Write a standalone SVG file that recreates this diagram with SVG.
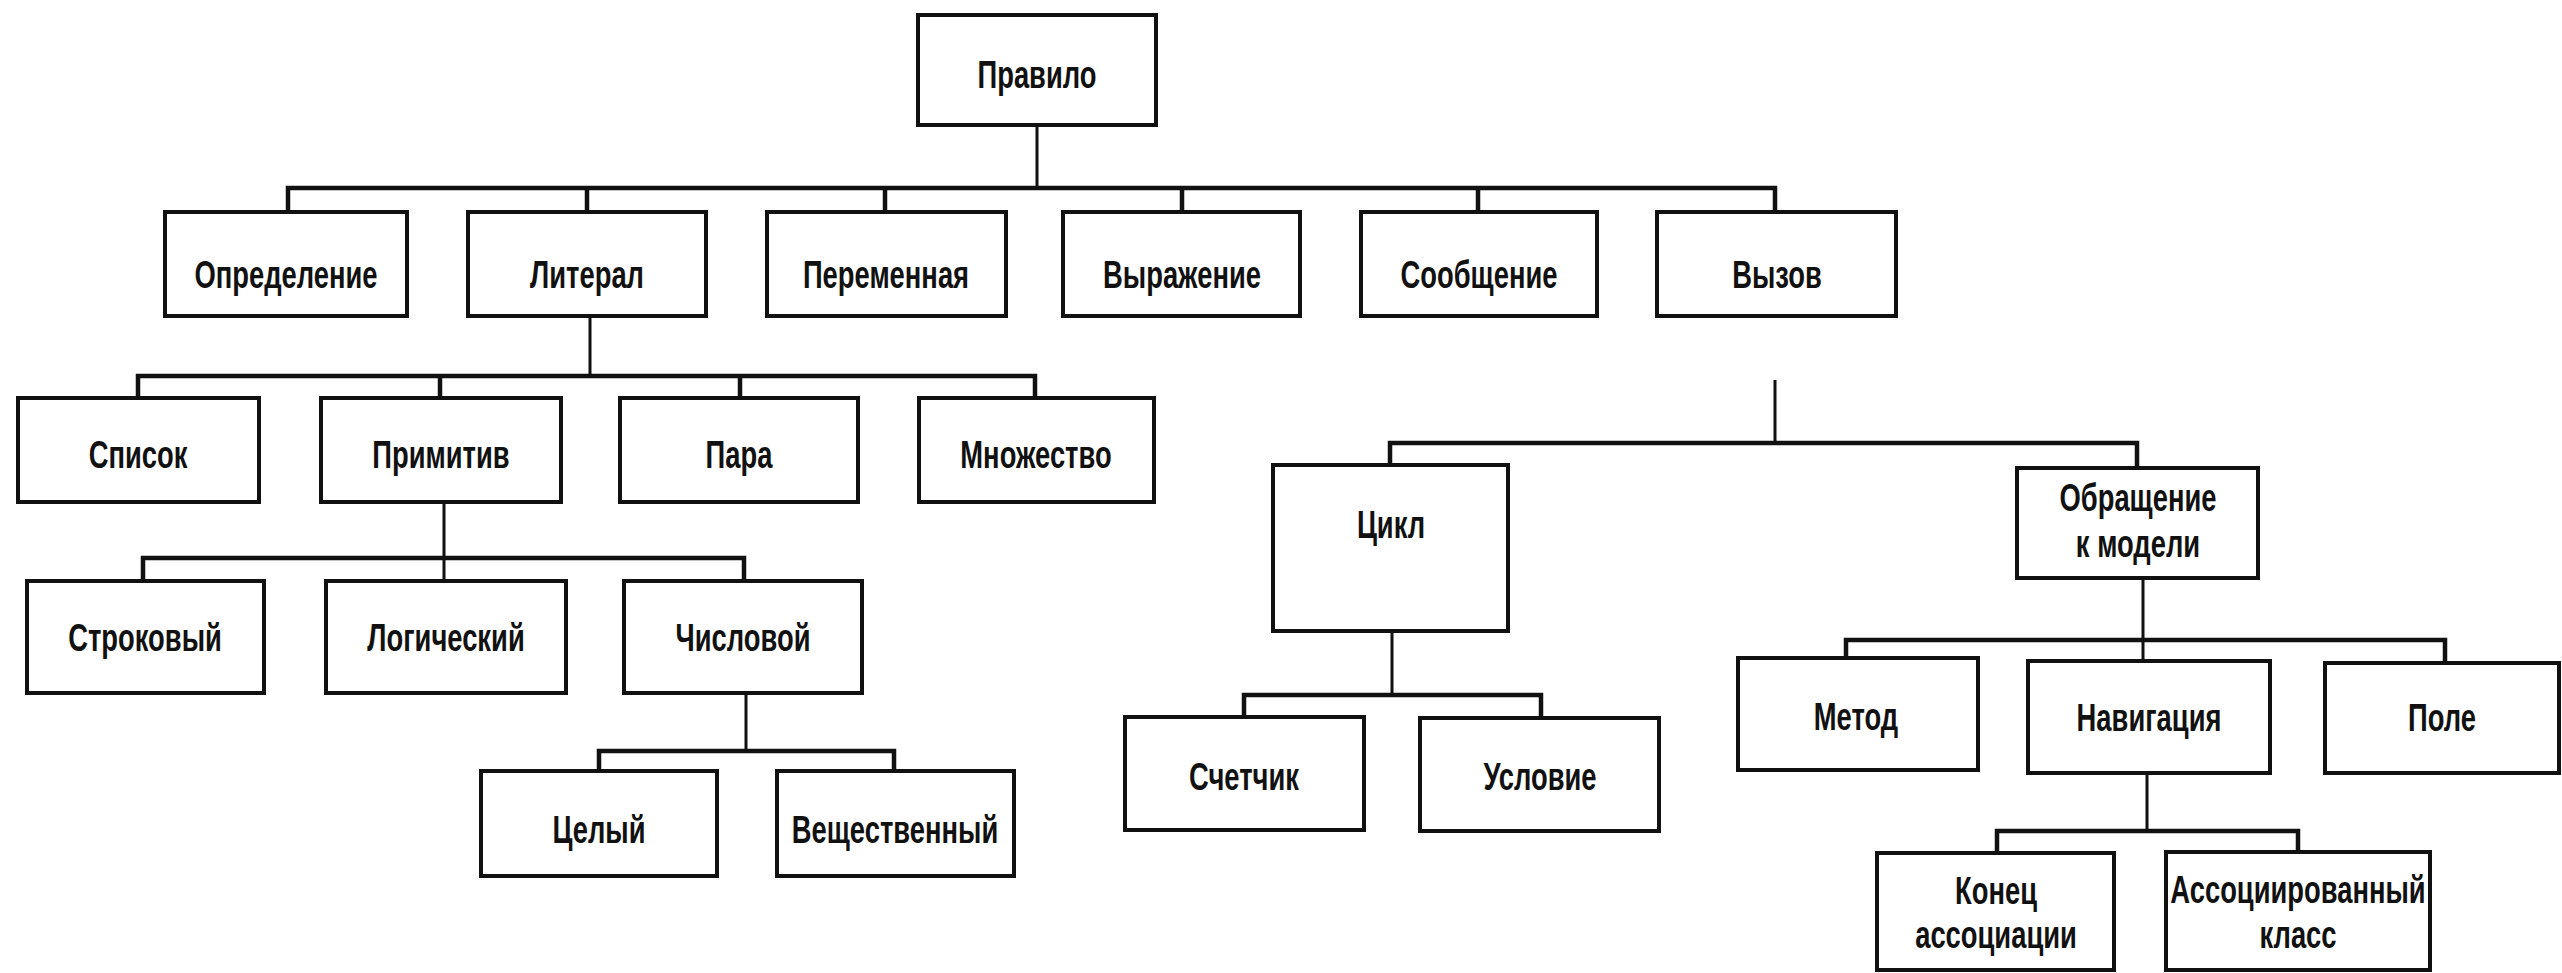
<svg xmlns="http://www.w3.org/2000/svg" width="2562" height="973" viewBox="0 0 2562 973">
<style>
  .box { fill: #fff; stroke: #111; stroke-width: 4; }
  .t { font-family: "Liberation Sans", Arial, sans-serif; font-weight: bold; font-size: 38px; fill: #111; text-anchor: middle; }
  .bus { fill: none; stroke: #111; stroke-width: 4.5; stroke-linejoin: miter; }
  .drop { fill: none; stroke: #111; stroke-width: 3; }
</style>
<rect x="0" y="0" width="2562" height="973" fill="#fff"/>
<g id="connectors">
  <path class="drop" d="M1037 125 V188 M590 316 V376 M444 502 V581 M746 693 V751 M1775 380 V443 M1392 631 V695 M2143 578 V661 M2147 773 V831"/>
  <path class="bus" d="M288 212 V188 H1775 V212 M587 188 V212 M885 188 V212 M1182 188 V212 M1478 188 V212"/>
  <path class="bus" d="M138 398 V376 H1035 V398 M440 376 V398 M740 376 V398"/>
  <path class="bus" d="M143 581 V558 H744 V581"/>
  <path class="bus" d="M599 771 V751 H894 V771"/>
  <path class="bus" d="M1390 465 V443 H2137 V468"/>
  <path class="bus" d="M1244 717 V695 H1541 V718"/>
  <path class="bus" d="M1846 658 V640 H2445 V663"/>
  <path class="bus" d="M1997 853 V831 H2298 V852"/>
</g>
<g id="n-pravilo"><rect class="box" x="918" y="15" width="238" height="110"/><text class="t" transform="translate(1037 88) scale(0.72 1)">Правило</text></g>
<g id="n-opredelenie"><rect class="box" x="165" y="212" width="242" height="104"/><text class="t" transform="translate(286 288) scale(0.72 1)">Определение</text></g>
<g id="n-literal"><rect class="box" x="468" y="212" width="238" height="104"/><text class="t" transform="translate(587 288) scale(0.72 1)">Литерал</text></g>
<g id="n-peremennaya"><rect class="box" x="767" y="212" width="239" height="104"/><text class="t" transform="translate(886 288) scale(0.72 1)">Переменная</text></g>
<g id="n-vyrazhenie"><rect class="box" x="1063" y="212" width="237" height="104"/><text class="t" transform="translate(1182 288) scale(0.72 1)">Выражение</text></g>
<g id="n-soobshchenie"><rect class="box" x="1361" y="212" width="236" height="104"/><text class="t" transform="translate(1479 288) scale(0.72 1)">Сообщение</text></g>
<g id="n-vyzov"><rect class="box" x="1657" y="212" width="239" height="104"/><text class="t" transform="translate(1777 288) scale(0.72 1)">Вызов</text></g>
<g id="n-spisok"><rect class="box" x="18" y="398" width="241" height="104"/><text class="t" transform="translate(138 468) scale(0.72 1)">Список</text></g>
<g id="n-primitiv"><rect class="box" x="321" y="398" width="240" height="104"/><text class="t" transform="translate(441 468) scale(0.72 1)">Примитив</text></g>
<g id="n-para"><rect class="box" x="620" y="398" width="238" height="104"/><text class="t" transform="translate(739 468) scale(0.72 1)">Пара</text></g>
<g id="n-mnozhestvo"><rect class="box" x="919" y="398" width="235" height="104"/><text class="t" transform="translate(1036 468) scale(0.72 1)">Множество</text></g>
<g id="n-strokovyy"><rect class="box" x="27" y="581" width="237" height="112"/><text class="t" transform="translate(145 651) scale(0.72 1)">Строковый</text></g>
<g id="n-logicheskiy"><rect class="box" x="326" y="581" width="240" height="112"/><text class="t" transform="translate(446 651) scale(0.72 1)">Логический</text></g>
<g id="n-chislovoy"><rect class="box" x="624" y="581" width="238" height="112"/><text class="t" transform="translate(743 651) scale(0.72 1)">Числовой</text></g>
<g id="n-tselyy"><rect class="box" x="481" y="771" width="236" height="105"/><text class="t" transform="translate(599 843) scale(0.72 1)">Целый</text></g>
<g id="n-veshchestvennyy"><rect class="box" x="777" y="771" width="237" height="105"/><text class="t" transform="translate(895 843) scale(0.72 1)">Вещественный</text></g>
<g id="n-tsikl"><rect class="box" x="1273" y="465" width="235" height="166"/><text class="t" transform="translate(1391 538) scale(0.72 1)">Цикл</text></g>
<g id="n-obrashchenie"><rect class="box" x="2017" y="468" width="241" height="110"/><text class="t" transform="translate(2138 511) scale(0.72 1)">Обращение</text><text class="t" transform="translate(2138 557) scale(0.72 1)">к модели</text></g>
<g id="n-schetchik"><rect class="box" x="1125" y="717" width="239" height="113"/><text class="t" transform="translate(1244 790) scale(0.72 1)">Счетчик</text></g>
<g id="n-uslovie"><rect class="box" x="1420" y="718" width="239" height="113"/><text class="t" transform="translate(1540 790) scale(0.72 1)">Условие</text></g>
<g id="n-metod"><rect class="box" x="1738" y="658" width="240" height="112"/><text class="t" transform="translate(1856 730) scale(0.72 1)">Метод</text></g>
<g id="n-navigatsiya"><rect class="box" x="2028" y="661" width="242" height="112"/><text class="t" transform="translate(2149 731) scale(0.72 1)">Навигация</text></g>
<g id="n-pole"><rect class="box" x="2325" y="663" width="234" height="110"/><text class="t" transform="translate(2442 731) scale(0.72 1)">Поле</text></g>
<g id="n-konets"><rect class="box" x="1877" y="853" width="237" height="117"/><text class="t" transform="translate(1996 904) scale(0.72 1)">Конец</text><text class="t" transform="translate(1996 948) scale(0.72 1)">ассоциации</text></g>
<g id="n-assots"><rect class="box" x="2166" y="852" width="264" height="118"/><text class="t" transform="translate(2298 903) scale(0.72 1)">Ассоциированный</text><text class="t" transform="translate(2298 948) scale(0.72 1)">класс</text></g>
</svg>
